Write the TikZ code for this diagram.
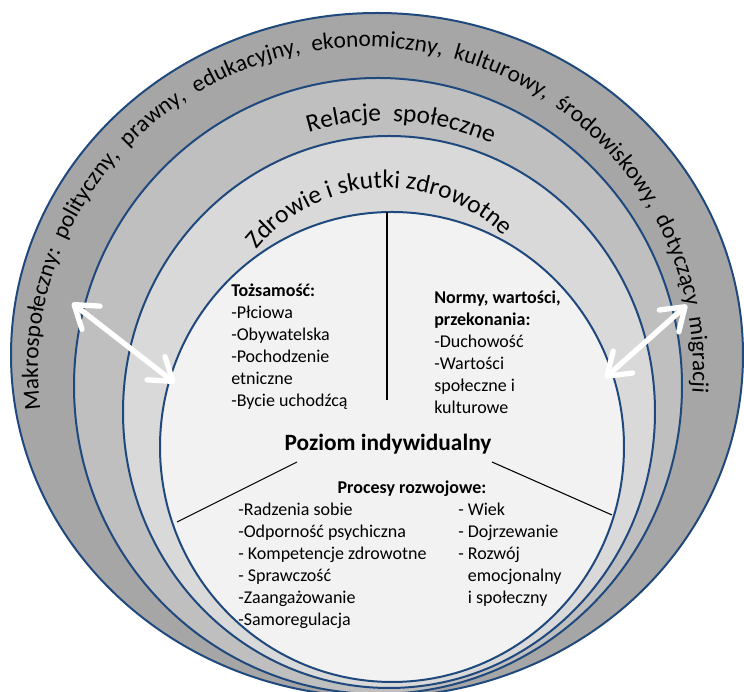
\documentclass[tikz,border=0pt]{standalone}
\usepackage{fontspec}
\setmainfont{Carlito}
\usetikzlibrary{arrows.meta,positioning,decorations.text}

\definecolor{ringline}{RGB}{31,73,125}
\definecolor{macrogray}{RGB}{166,166,166}
\definecolor{relgray}{RGB}{191,191,191}
\definecolor{healthgray}{RGB}{217,217,217}
\definecolor{selfgray}{RGB}{242,242,242}

\begin{document}
\begin{tikzpicture}
                [x=0.75pt, y=0.75pt,
                 ring/.style={draw=ringline,line width=1.5pt},
                 split/.style={black,line width=0.8pt},
                 twoway/.style={{Straight Barb[length=16pt,width=22pt,round]}-{Straight Barb[length=16pt,width=22pt,round]},white,line width=4pt,line cap=round},
                 list/.style={align=left,inner sep=0pt,anchor=north west,font=\fontsize{13.5}{16.5}\selectfont},
                 heading/.style={inner sep=0pt,anchor=base,font=\bfseries\fontsize{13.5}{16.5}\selectfont}]

                \useasboundingbox (0,0) rectangle (744,692);

                \filldraw[ring,fill=macrogray]  (377,337) ellipse [x radius=366,y radius=342];
                \filldraw[ring,fill=relgray]    (378,306) ellipse [x radius=304,y radius=308];
                \filldraw[ring,fill=healthgray] (389,280) ellipse [x radius=266,y radius=276];
                \filldraw[ring,fill=selfgray]   (392,245) ellipse [x radius=232,y radius=235];

                \path[decorate,decoration={text along path,text align=fit to path stretching spaces,
                      text={|\fontsize{17.5}{21}\selectfont|Makrospołeczny: polityczny, prawny, edukacyjny, ekonomiczny, kulturowy, środowiskowy, dotyczący migracji}},
                      shift={(365.5,322)}]
                      (187:327.5 and 323) arc [start angle=187,end angle=-4,x radius=327.5,y radius=323];
                \path[decorate,decoration={text along path,text align=center,
                      text={|\fontsize{19}{23}\selectfont|Relacje {\ }społeczne}},
                      shift={(385,306)}]
                      (130:265) arc [start angle=130,end angle=43,radius=265];
                \path[decorate,decoration={text along path,text align=center,
                      text={|\fontsize{19}{23}\selectfont|Zdrowie i skutki zdrowotne}},
                      shift={(386,337)}]
                      (160:167) arc [start angle=160,end angle=26,radius=167];

                \node[heading,font=\bfseries\fontsize{17.5}{21}\selectfont] (poziom)  at (388,241) {Poziom indywidualny};
                \node[heading]                                              (procesy) at (412,198) {Procesy rozwojowe:};

                \node[list] (identity) at (231,408) {\textbf{Tożsamość:}\\-Płciowa\\-Obywatelska\\-Pochodzenie\\etniczne\\-Bycie uchodźcą};
                \node[list] (norms)    at (434,401) {\textbf{Normy, wartości,}\\\textbf{przekonania:}\\-Duchowość\\-Wartości\\społeczne i\\kulturowe};
                \node[list] (coping)   at (238,189) {-Radzenia sobie\\-Odporność psychiczna\\- Kompetencje zdrowotne\\- Sprawczość\\-Zaangażowanie\\-Samoregulacja};
                \node[list] (growth)   at (458,189) {- Wiek\\- Dojrzewanie\\- Rozwój\\\phantom{- }emocjonalny\\\phantom{- }i społeczny};

                \coordinate (vtop)   at (387,480);
                \coordinate (vbot)   at (387,292);
                \coordinate (lsplit) at (297,230);
                \coordinate (lrim)   at (177,170);
                \coordinate (rsplit) at (492,230);
                \coordinate (rrim)   at (612,177);

                \draw[split] (vtop)   -- (vbot);
                \draw[split] (lsplit) -- (lrim);
                \draw[split] (rsplit) -- (rrim);

                \coordinate (macroL) at (72,389);
                \coordinate (selfL)  at (175,309);
                \coordinate (macroR) at (687,387);
                \coordinate (selfR)  at (605,314);

                \draw[twoway] (macroL) -- (selfL);
                \draw[twoway] (macroR) -- (selfR);

            \end{tikzpicture}
\end{document}
